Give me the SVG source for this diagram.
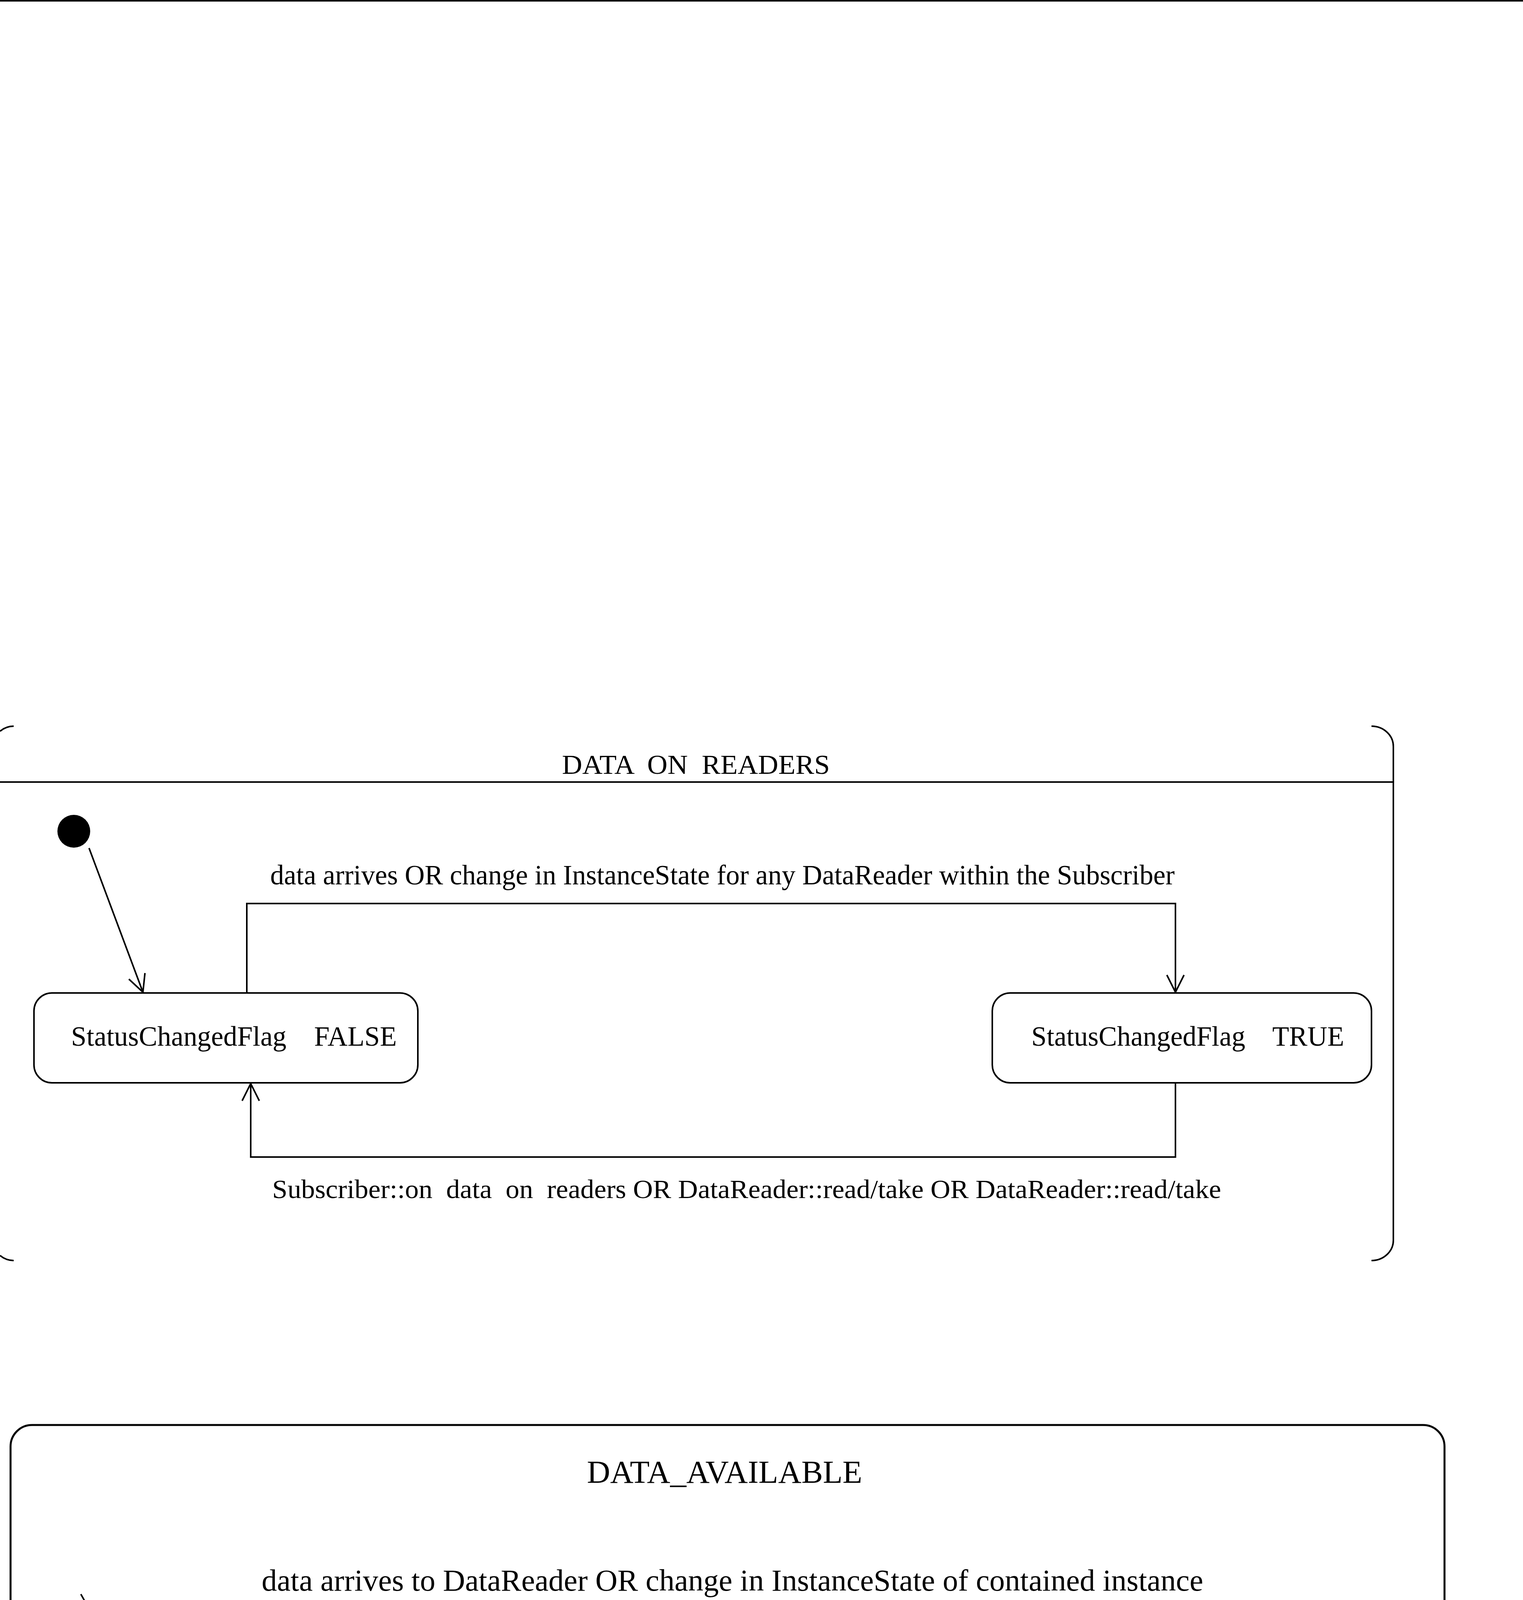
<svg xmlns="http://www.w3.org/2000/svg" width="3900" height="5439" viewBox="0 0 3900 5439">
<defs>
<style>
.t{font-family:"Liberation Serif","Times New Roman",serif;fill:#000;white-space:pre}
.ln{fill:none;stroke:#000;stroke-width:4}
.ln5{fill:none;stroke:#000;stroke-width:5}
.node{fill:#fff;stroke:#000;stroke-width:4}
.node5{fill:#fff;stroke:#000;stroke-width:5}
</style>
<marker id="arrS" viewBox="-50 -30 60 60" markerWidth="60" markerHeight="60" refX="0" refY="0" orient="auto" markerUnits="userSpaceOnUse" overflow="visible">
<path d="M-44,-22 L0,0 L-44,22" fill="none" stroke="#000" stroke-width="4"/>
</marker>
<marker id="arrL" viewBox="-60 -35 70 70" markerWidth="70" markerHeight="70" refX="0" refY="0" orient="auto" markerUnits="userSpaceOnUse" overflow="visible">
<path d="M-56,-28 L0,0 L-56,28" fill="none" stroke="#000" stroke-width="4"/>
</marker>
</defs>
<rect x="0" y="0" width="3900" height="5439" fill="#fff"/>
<rect x="0" y="0" width="3900" height="4" fill="#000"/>

<g id="frame_data_on_readers">
<path class="ln" d="M0,1872 A55,55 0 0 1 35,1859"/>
<path class="ln" d="M3512,1859 A56,52 0 0 1 3568,1911 V3175 A56,52 0 0 1 3512,3227"/>
<path class="ln" d="M0,3214 A55,55 0 0 0 35,3227"/>
<line class="ln" x1="0" y1="2002" x2="3568" y2="2002"/>
<text class="t" x="1439" y="1981" font-size="70" textLength="686" lengthAdjust="spacingAndGlyphs" xml:space="preserve">DATA  ON  READERS</text>
</g>

<g id="frame_data_available">
<rect class="ln5" x="27" y="3648" width="3672" height="1605" rx="55" ry="55"/>
<text class="t" x="1503" y="3796" font-size="82" textLength="705" lengthAdjust="spacingAndGlyphs">DATA_AVAILABLE</text>
</g>

<g id="connectors">
<path class="ln" d="M228,2171 L366,2540" marker-end="url(#arrS)"/>
<path class="ln" d="M632,2542 V2313 H3010 V2540" marker-end="url(#arrS)"/>
<path class="ln" d="M3010,2772 V2962 H642 V2774" marker-end="url(#arrS)"/>
<text class="t" x="692" y="2264" font-size="72" textLength="2316" lengthAdjust="spacingAndGlyphs">data arrives OR change in InstanceState for any DataReader within the Subscriber</text>
<text class="t" x="697" y="3067" font-size="68" textLength="2430" lengthAdjust="spacingAndGlyphs" xml:space="preserve">Subscriber::on  data  on  readers OR DataReader::read/take OR DataReader::read/take</text>

<path class="ln" d="M207,4081 L377,4384" marker-end="url(#arrL)"/>
<path class="ln5" d="M759,4386 V4135 H3009 V4384" marker-end="url(#arrL)"/>
<path class="ln5" d="M3008,4653 V4987 H759 V4655" marker-end="url(#arrL)"/>
<text class="t" x="670" y="4072" font-size="78" textLength="2411" lengthAdjust="spacingAndGlyphs">data arrives to DataReader OR change in InstanceState of contained instance</text>
<text class="t" x="920" y="5104" font-size="80" textLength="1934" lengthAdjust="spacingAndGlyphs">DataReader::on_sample_available OR DataReader::read/take</text>
</g>

<g id="initial_1">
<circle cx="189" cy="2128" r="42" fill="#000"/>
</g>

<g id="dor_false">
<rect class="node" x="87" y="2542" width="983" height="230" rx="46" ry="46"/>
<text class="t" x="182" y="2677" font-size="71" textLength="834" lengthAdjust="spacingAndGlyphs" xml:space="preserve">StatusChangedFlag    FALSE</text>
</g>

<g id="dor_true">
<rect class="node" x="2541" y="2542" width="971" height="230" rx="46" ry="46"/>
<text class="t" x="2641" y="2677" font-size="71" textLength="801" lengthAdjust="spacingAndGlyphs" xml:space="preserve">StatusChangedFlag    TRUE</text>
</g>

<g id="da_false">
<rect class="node5" x="95" y="4386" width="1136" height="267" rx="55" ry="55"/>
<text class="t" x="199" y="4535" font-size="77" textLength="926" lengthAdjust="spacingAndGlyphs">StatusChangedFlag = FALSE</text>
</g>

<g id="da_true">
<rect class="node5" x="2432" y="4386" width="1127" height="267" rx="55" ry="55"/>
<text class="t" x="2531" y="4535" font-size="77" textLength="915" lengthAdjust="spacingAndGlyphs">StatiusChangedFlag = TRUE</text>
</g>
</svg>
